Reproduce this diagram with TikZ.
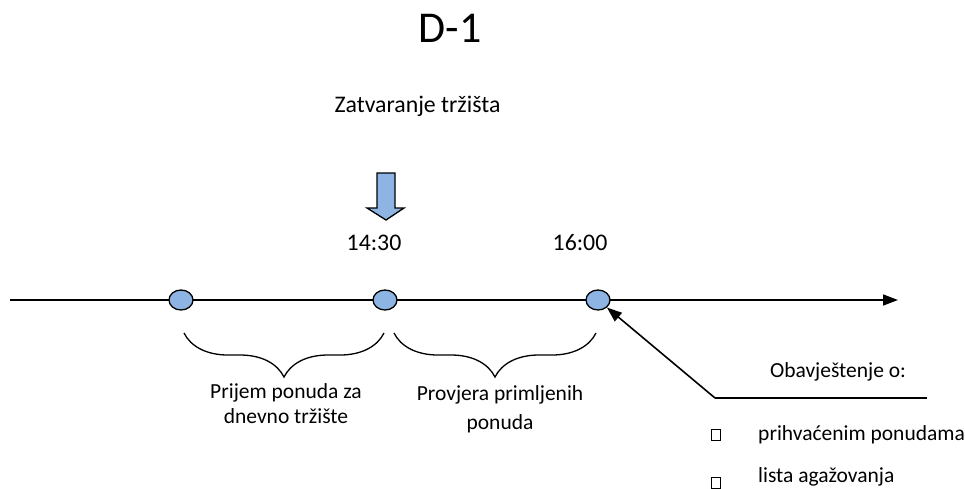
\documentclass[tikz,border=0pt]{standalone}
\usepackage{fontspec}
\setmainfont{Carlito}
\usetikzlibrary{arrows.meta,decorations.pathreplacing,shapes.geometric}
\definecolor{dotblue}{RGB}{141,180,226}
\tikzset{
  dot/.style={ellipse, draw=black, line width=1.3pt, fill=dotblue, minimum width=24pt, minimum height=20pt, inner sep=0pt},
  lbl/.style={font=\fontsize{21.5}{25}\selectfont, inner sep=0pt, align=center, anchor=base},
  biglbl/.style={font=\fontsize{23.8}{28}\selectfont, inner sep=0pt, anchor=base},
  bracestyle/.style={decorate, decoration={brace, amplitude=44pt, mirror}, line width=1.3pt},
  axis/.style={line width=1.6pt, -{Triangle[length=15pt,width=11pt]}},
  pointer/.style={line width=1.6pt, -{Triangle[length=15pt,width=11pt]}},
  bulletbox/.style={draw=black, line width=0.9pt, minimum width=9pt, minimum height=11pt, inner sep=0pt}
}
\begin{document}
\begin{tikzpicture}[x=1pt,y=-1pt]
\useasboundingbox (0,0) rectangle (965,488);
% title
\node[font=\fontsize{44}{50}\selectfont, inner sep=0pt, anchor=base] (title) at (450,42) {D-1};
\node[biglbl] (close) at (417.5,112) {Zatvaranje tržišta};
% block arrow
\draw[line width=1.3pt, fill=dotblue, line join=miter] (377,173) -- (395,173) -- (395,208) -- (404,208) -- (386,220) -- (367,208) -- (377,208) -- cycle;
\node[biglbl] (t1) at (374,250) {14:30};
\node[biglbl] (t2) at (580,250) {16:00};
% timeline
\coordinate (axstart) at (10,300);
\coordinate (axend) at (898,300);
\draw[axis] (axstart) -- (axend);
\node[dot] (c1) at (181,300) {};
\node[dot] (c2) at (385,300) {};
\node[dot] (c3) at (598,300) {};
% braces
\coordinate (b1a) at (184,333);
\coordinate (b1b) at (384,333);
\coordinate (b2a) at (394,333);
\coordinate (b2b) at (596,333);
\draw[bracestyle] (b1a) -- (b1b);
\draw[bracestyle] (b2a) -- (b2b);
\node[lbl] (p1) at (286,423) {Prijem ponuda za\\dnevno tržište};
\node[lbl, font=\fontsize{21.5}{29}\selectfont] (p2) at (500,429) {Provjera primljenih\\ponuda};
% notification
\coordinate (turn) at (715,398);
\coordinate (lineend) at (927,398);
\draw[line width=1.6pt] (lineend) -- (turn);
\draw[pointer] (turn) -- (c3.south east);
\node[lbl] (obv) at (838,377) {Obavještenje o:};
\node[bulletbox] (bx1) at (715.5,435) {};
\node[bulletbox] (bx2) at (715.5,483) {};
\node[lbl, anchor=base west] (i1) at (758,440) {prihvaćenim ponudama};
\node[lbl, anchor=base west] (i2) at (758,482) {lista agažovanja};
\end{tikzpicture}
\end{document}
